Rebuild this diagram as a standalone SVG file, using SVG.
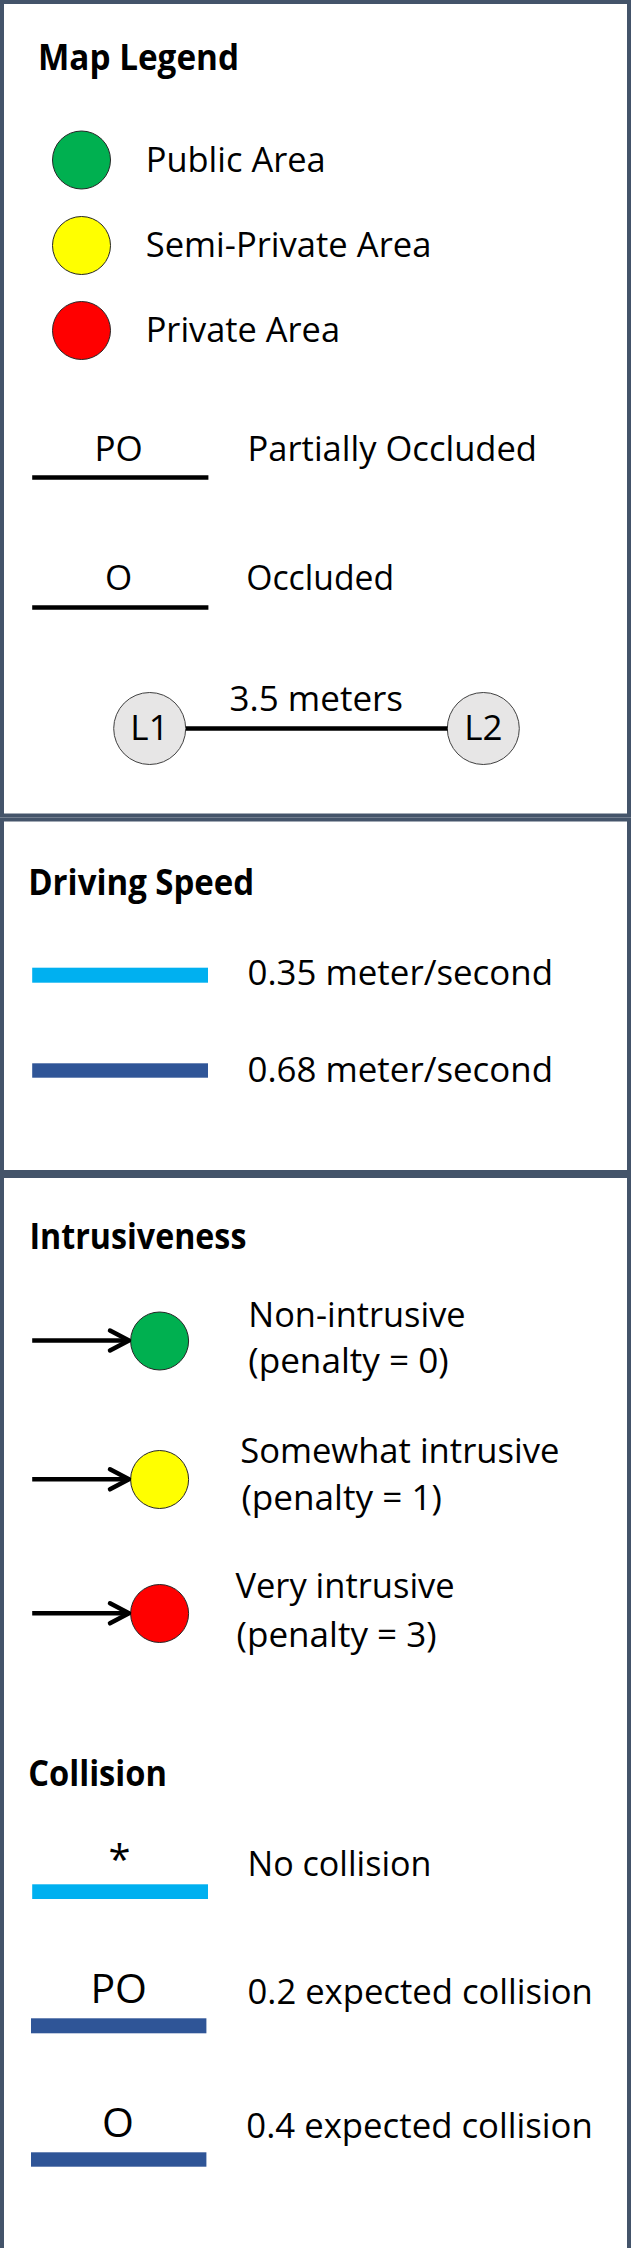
<svg xmlns="http://www.w3.org/2000/svg" width="631" height="2248" viewBox="0 0 631 2248">
<style>
.panel{fill:#ffffff;stroke:#44546A;stroke-width:4}
text{font-family:"Open Sans","Liberation Sans",sans-serif;fill:#000;font-size:35px}
.b{font-weight:bold}
.m{text-anchor:middle}
.area{stroke:#262626;stroke-width:1}
.loc{fill:#E7E6E6;stroke:#404040;stroke-width:1}
.occ{stroke:#000;stroke-width:4.5}
.arr{stroke:#000;stroke-width:4.5;fill:none}
</style>
<defs>
<marker id="chev" markerUnits="userSpaceOnUse" markerWidth="30" markerHeight="30" viewBox="0 0 30 30" refX="24" refY="15" orient="auto">
<path d="M5,5 L24,15 L5,25" fill="none" stroke="#000" stroke-width="4.5" stroke-linejoin="round" stroke-linecap="round"/>
</marker>
</defs>
<rect width="631" height="2248" fill="#ffffff"/>
<g id="panel-map-legend">
<rect class="panel" x="2" y="2" width="627" height="813.5"/>
<text class="b" x="38" y="70" textLength="201" lengthAdjust="spacingAndGlyphs">Map Legend</text>
</g>
<g id="panel-driving-speed">
<rect class="panel" x="2" y="819.5" width="627" height="352.5"/>
<text class="b" x="28.2" y="895" textLength="226" lengthAdjust="spacingAndGlyphs">Driving Speed</text>
</g>
<g id="panel-intrusiveness-collision">
<rect class="panel" x="2" y="1176" width="627" height="2070"/>
<text class="b" x="29.4" y="1249.3" textLength="217" lengthAdjust="spacingAndGlyphs">Intrusiveness</text>
<text class="b" x="28.2" y="1786" textLength="138.8" lengthAdjust="spacingAndGlyphs">Collision</text>
</g>
<g id="legend-public">
<circle class="area" cx="81.5" cy="160" r="29" fill="#00B050"/>
<text x="145.7" y="171.7" textLength="180" lengthAdjust="spacingAndGlyphs">Public Area</text>
</g>
<g id="legend-semi-private">
<circle class="area" cx="81.5" cy="245.5" r="29" fill="#FFFF00"/>
<text x="145.7" y="256.7" textLength="285.7" lengthAdjust="spacingAndGlyphs">Semi-Private Area</text>
</g>
<g id="legend-private">
<circle class="area" cx="81.5" cy="330.5" r="29" fill="#FF0000"/>
<text x="145.7" y="341.7" textLength="194.3" lengthAdjust="spacingAndGlyphs">Private Area</text>
</g>
<g id="legend-partially-occluded">
<line class="occ" x1="32.2" y1="477.5" x2="208.4" y2="477.5"/>
<text class="m" x="118.7" y="461">PO</text>
<text x="247.5" y="461" textLength="289.5" lengthAdjust="spacingAndGlyphs">Partially Occluded</text>
</g>
<g id="legend-occluded">
<line class="occ" x1="32.2" y1="607.5" x2="208.4" y2="607.5"/>
<text class="m" x="118.7" y="590">O</text>
<text x="246.3" y="590" textLength="147.7" lengthAdjust="spacingAndGlyphs">Occluded</text>
</g>
<g id="node-L1">
<circle class="loc" cx="149.7" cy="728.5" r="36"/>
<text class="m" x="149.5" y="740">L1</text>
</g>
<g id="node-L2">
<circle class="loc" cx="483.3" cy="728.5" r="36"/>
<text class="m" x="483.3" y="740">L2</text>
</g>
<g id="legend-speed-slow">
<rect x="32.2" y="967.7" width="175.8" height="15" fill="#00B0F0"/>
<text x="247.5" y="985" textLength="305.5" lengthAdjust="spacingAndGlyphs">0.35 meter/second</text>
</g>
<g id="legend-speed-fast">
<rect x="32.2" y="1063.3" width="175.8" height="14.4" fill="#2F5597"/>
<text x="247.5" y="1081.7" textLength="305.5" lengthAdjust="spacingAndGlyphs">0.68 meter/second</text>
</g>
<g id="legend-non-intrusive">
<circle class="area" cx="159.6" cy="1341" r="29" fill="#00B050"/>
<text x="248.3" y="1326.7" textLength="217.3" lengthAdjust="spacingAndGlyphs">Non-intrusive</text>
<text x="248.3" y="1372.7" textLength="200.4" lengthAdjust="spacingAndGlyphs">(penalty = 0)</text>
</g>
<g id="legend-somewhat-intrusive">
<circle class="area" cx="159.6" cy="1479.5" r="29" fill="#FFFF00"/>
<text x="240.2" y="1463.3" textLength="319.2" lengthAdjust="spacingAndGlyphs">Somewhat intrusive</text>
<text x="241.4" y="1510" textLength="200.5" lengthAdjust="spacingAndGlyphs">(penalty = 1)</text>
</g>
<g id="legend-very-intrusive">
<circle class="area" cx="159.6" cy="1613.5" r="29" fill="#FF0000"/>
<text x="235.4" y="1598.3" textLength="219.3" lengthAdjust="spacingAndGlyphs">Very intrusive</text>
<text x="236.6" y="1646.7" textLength="200" lengthAdjust="spacingAndGlyphs">(penalty = 3)</text>
</g>
<g id="legend-no-collision">
<rect x="32.2" y="1884.3" width="175.8" height="14.7" fill="#00B0F0"/>
<text class="m" x="119.5" y="1874" style="font-size:40px">*</text>
<text x="247.5" y="1876" textLength="183.9" lengthAdjust="spacingAndGlyphs">No collision</text>
</g>
<g id="legend-collision-02">
<rect x="31" y="2018.3" width="175.4" height="15" fill="#2F5597"/>
<text class="m" x="118.7" y="2003.3" style="font-size:41px">PO</text>
<text x="247.5" y="2004" textLength="345.3" lengthAdjust="spacingAndGlyphs">0.2 expected collision</text>
</g>
<g id="legend-collision-04">
<rect x="31" y="2152.3" width="175.4" height="14.4" fill="#2F5597"/>
<text class="m" x="117.9" y="2137.3" style="font-size:41px">O</text>
<text x="246.3" y="2138.3" textLength="346.5" lengthAdjust="spacingAndGlyphs">0.4 expected collision</text>
</g>
<g id="connectors">
<line x1="186" y1="728.5" x2="447.5" y2="728.5" stroke="#000" stroke-width="4.5"/>
<text class="m" x="316.3" y="711">3.5 meters</text>
<line class="arr" x1="32.2" y1="1340.5" x2="129" y2="1340.5" marker-end="url(#chev)"/>
<line class="arr" x1="32.2" y1="1479.3" x2="129" y2="1479.3" marker-end="url(#chev)"/>
<line class="arr" x1="32.2" y1="1613.3" x2="129" y2="1613.3" marker-end="url(#chev)"/>
</g>
</svg>
